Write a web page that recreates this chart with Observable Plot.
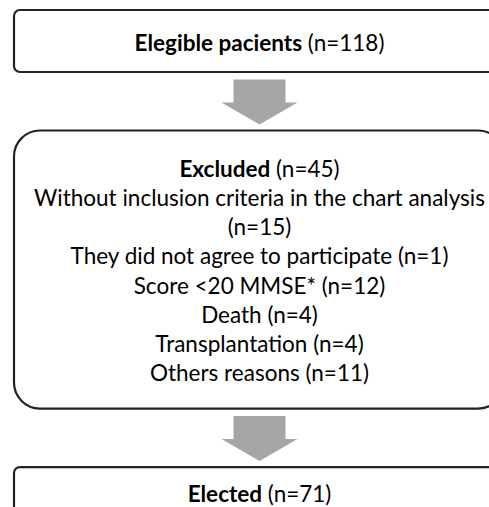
<!DOCTYPE html>
<html><head><meta charset="utf-8">
<script src="https://cdn.jsdelivr.net/npm/d3@7"></script>
<script src="https://cdn.jsdelivr.net/npm/@observablehq/plot@0.6"></script>
<style>
html,body{margin:0;padding:0;background:#fff;overflow:hidden;}
#chart svg{overflow:hidden;display:block;}
</style></head><body><div id="chart"></div>
<script>
// ---- data ----
const stages = ["Elegible pacients", "Excluded", "Elected"];
const stageCounts = [118, 45, 71];
const reasons = ["Without inclusion criteria in the chart analysis", "They did not agree to participate", "Score <20 MMSE*", "Death", "Transplantation", "Others reasons"];
const reasonCounts = [15, 1, 12, 4, 4, 11];

// ---- layout (drawing parameters) ----
const W = 489, H = 507;
const FONT = "Lato, 'Open Sans', sans-serif";
const FS = 22.5, LH = 29.15;
const boxLeft = 14, boxRight = 504, cx = 259;
const maxLine = 462;
const headerDrops = [40, 46, 34];
const bottomPad = 28, gapTop = 7, gapBottom = 6.5, arrowLen = 45;
const shaftHalf = 26, headHalf = 38, headLen = 22;

const ctx = document.createElement("canvas").getContext("2d");
ctx.font = `${FS}px Lato`;
const reasonLines = [];
reasons.forEach((r, i) => {
  const full = `${r} (n=${reasonCounts[i]})`;
  if (ctx.measureText(full).width > maxLine) { reasonLines.push(r); reasonLines.push(`(n=${reasonCounts[i]})`); }
  else reasonLines.push(full);
});

// compute boxes
const boxes = [];
const headers = [];
const lines = [];
const arrows = [];
let curTop = 10;
stages.forEach((s, i) => {
  const base = curTop + headerDrops[i];
  headers.push({label: s, n: stageCounts[i], x: cx, y: base - 0.32 * FS});
  let bottom;
  if (i === 1) {
    reasonLines.forEach((t, j) => lines.push({text: t, x: cx, y: base + (j + 1) * LH - 0.32 * FS}));
    bottom = base + reasonLines.length * LH + bottomPad;
  } else {
    bottom = curTop + 62;
  }
  boxes.push({x1: boxLeft, x2: boxRight, y1: curTop, y2: bottom, big: i === 1});
  if (i < stages.length - 1) {
    const a0 = bottom + gapTop, a1 = a0 + arrowLen, hy = a1 - headLen;
    const pts = [[cx - shaftHalf, a0], [cx + shaftHalf, a0], [cx + shaftHalf, hy], [cx + headHalf, hy], [cx, a1], [cx - headHalf, hy], [cx - shaftHalf, hy], [cx - shaftHalf, a0]];
    pts.forEach(([x, y]) => arrows.push({id: i, x, y}));
    curTop = a1 + gapBottom;
  }
});

const plot = Plot.plot({
  width: W, height: H,
  margin: 0,
  x: {domain: [0, W], range: [0, W], axis: null},
  y: {domain: [0, H], range: [0, H], axis: null},
  style: {fontFamily: FONT, background: "#fff"},
  marks: [
    Plot.rect(boxes.filter(d => !d.big), {x1: "x1", x2: "x2", y1: "y1", y2: "y2", fill: "#fff", stroke: "#222", strokeWidth: 2.2, rx: 6}),
    Plot.rect(boxes.filter(d => d.big), {x1: "x1", x2: "x2", y1: "y1", y2: "y2", fill: "#fff", stroke: "#222", strokeWidth: 2.2, rx: 26}),
    Plot.line(arrows, {x: "x", y: "y", z: "id", fill: "#a6a6a6", stroke: "none", curve: "linear"}),
    Plot.text(headers, {x: "x", y: "y", text: d => `${d.label} (n=${d.n})`, fontSize: FS, fill: "#000", className: "hdr"}),
    Plot.text(lines, {x: "x", y: "y", text: "text", fontSize: FS, fill: "#000"})
  ]
});
document.getElementById("chart").appendChild(plot);
// bold the stage names
plot.querySelectorAll("g.hdr text").forEach((t, i) => {
  const d = headers[i];
  t.textContent = "";
  const ns = "http://www.w3.org/2000/svg";
  const b = document.createElementNS(ns, "tspan");
  b.setAttribute("font-weight", "bold");
  b.textContent = d.label;
  const r = document.createElementNS(ns, "tspan");
  r.textContent = ` (n=${d.n})`;
  t.appendChild(b); t.appendChild(r);
});
</script></body></html>
